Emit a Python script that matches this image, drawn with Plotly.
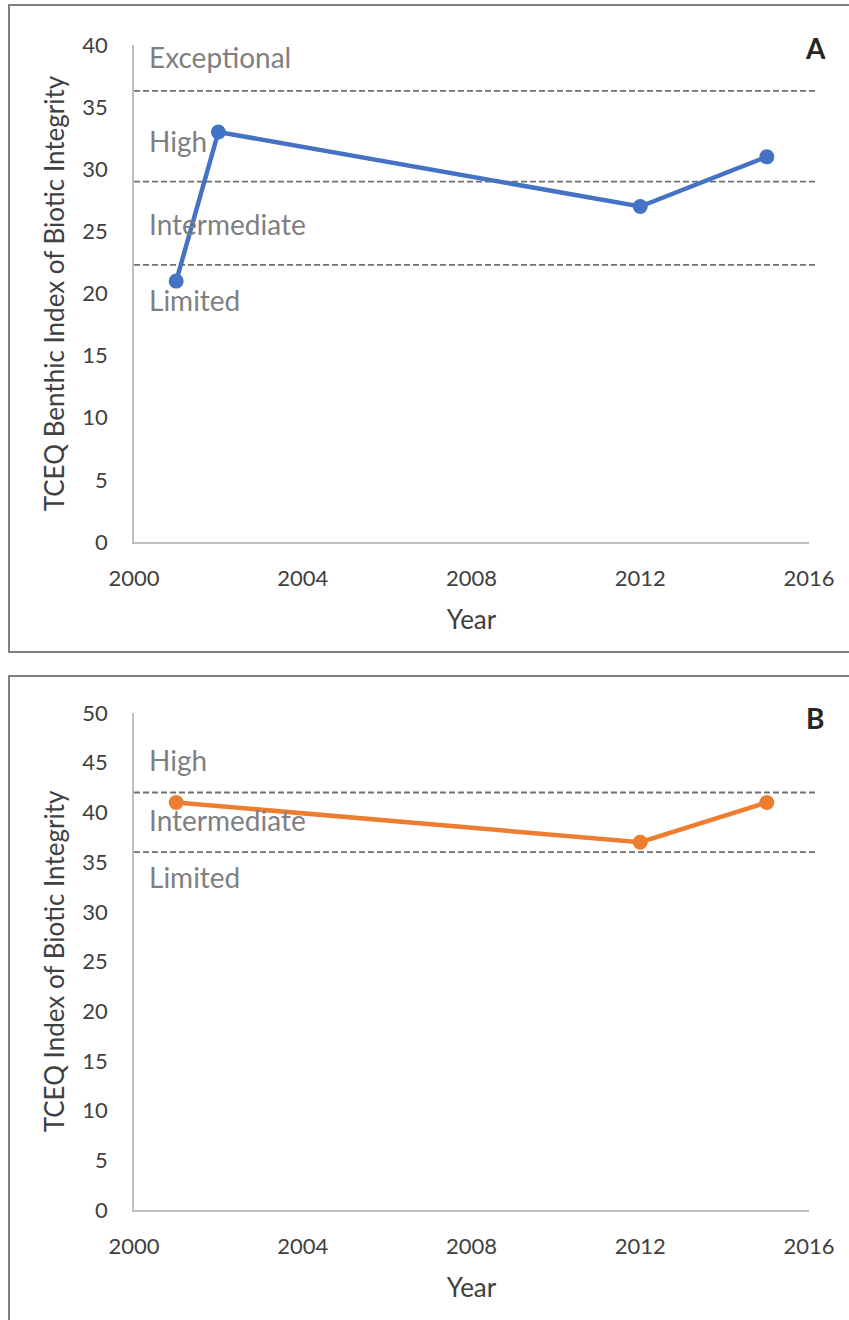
import plotly.graph_objects as go

# Benthic index (panel A)
years_a = [2001, 2002, 2012, 2015]
benthic_ibi = [21, 33, 27, 31]
benthic_breaks = [36.3, 29, 22.3]
benthic_classes = ["Exceptional", "High", "Intermediate", "Limited"]
benthic_class_y = [39.0, 32.3, 25.6, 19.5]

# Fish index (panel B)
years_b = [2001, 2012, 2015]
fish_ibi = [41, 37, 41]
fish_breaks = [42, 36]
fish_classes = ["High", "Intermediate", "Limited"]
fish_class_y = [45.3, 39.2, 33.5]

x_ticks = [2000, 2004, 2008, 2012, 2016]

W, H = 849, 1320
FONT = "Lato"
TICK_COLOR = "#404040"
CLASS_COLOR = "#7f7f7f"


def py(px):
    return 1 - px / H


def px_x(px):
    return px / W


fig = go.Figure()

fig.add_trace(go.Scatter(
    x=years_a, y=benthic_ibi, mode="lines+markers",
    line=dict(color="#4472C4", width=4.5),
    marker=dict(size=15, color="#4472C4"),
    xaxis="x", yaxis="y", showlegend=False, cliponaxis=False,
))
fig.add_trace(go.Scatter(
    x=years_b, y=fish_ibi, mode="lines+markers",
    line=dict(color="#ED7D31", width=4.5),
    marker=dict(size=15, color="#ED7D31"),
    xaxis="x2", yaxis="y2", showlegend=False, cliponaxis=False,
))

x_dom = [px_x(134), px_x(809)]
axis_common = dict(
    showgrid=False, zeroline=False, showline=True, linecolor="#bfbfbf", linewidth=1.5,
    tickfont=dict(family=FONT, size=22, color=TICK_COLOR),
    ticks="", automargin=False,
)
title_font = dict(family=FONT, size=26, color="#404040")
xaxis_common = dict(
    axis_common, range=[2000, 2016], tickmode="array", tickvals=x_ticks,
    ticklabelstandoff=16,
    title=dict(text="Year", font=title_font, standoff=21),
)

fig.update_layout(
    width=W, height=H,
    margin=dict(l=0, r=0, t=0, b=0),
    paper_bgcolor="white", plot_bgcolor="white",
    xaxis=dict(xaxis_common, domain=x_dom, anchor="y"),
    yaxis=dict(axis_common, domain=[py(542), py(45)], range=[0, 40], dtick=5, anchor="x",
               ticklabelstandoff=20,
               title=dict(text="TCEQ Benthic Index of Biotic Integrity", font=title_font, standoff=10)),
    xaxis2=dict(xaxis_common, domain=x_dom, anchor="y2"),
    yaxis2=dict(axis_common, domain=[py(1210), py(713)], range=[0, 50], dtick=5, anchor="x2",
                ticklabelstandoff=20,
                title=dict(text="TCEQ Index of Biotic Integrity", font=title_font, standoff=10)),
)

dash_line = dict(color="#6f6f6f", width=1.8, dash="6px,3px")
shapes = []
# panel frames
shapes.append(dict(type="rect", xref="paper", yref="paper",
                   x0=px_x(9), x1=1.05, y0=py(652), y1=py(5),
                   line=dict(color="#7f7f7f", width=2), layer="below"))
shapes.append(dict(type="rect", xref="paper", yref="paper",
                   x0=px_x(9), x1=1.05, y0=-0.05, y1=py(676),
                   line=dict(color="#7f7f7f", width=2), layer="below"))
for v in benthic_breaks:
    shapes.append(dict(type="line", xref="paper", yref="y", x0=x_dom[0], x1=px_x(817),
                       y0=v, y1=v, line=dash_line, layer="below"))
for v in fish_breaks:
    shapes.append(dict(type="line", xref="paper", yref="y2", x0=x_dom[0], x1=px_x(817),
                       y0=v, y1=v, line=dash_line, layer="below"))
fig.update_layout(shapes=shapes)

class_font = dict(family=FONT, size=28, color=CLASS_COLOR)
annotations = []
for name, yv in zip(benthic_classes, benthic_class_y):
    annotations.append(dict(text=name, xref="paper", yref="y", x=px_x(147), y=yv,
                            xanchor="left", yanchor="middle", showarrow=False, font=class_font))
for name, yv in zip(fish_classes, fish_class_y):
    annotations.append(dict(text=name, xref="paper", yref="y2", x=px_x(147), y=yv,
                            xanchor="left", yanchor="middle", showarrow=False, font=class_font))
annotations.append(dict(text="<b>A</b>", xref="paper", yref="paper", x=px_x(815), y=py(48),
                        xanchor="center", yanchor="middle", showarrow=False,
                        font=dict(family=FONT, size=28, color="#262626")))
annotations.append(dict(text="<b>B</b>", xref="paper", yref="paper", x=px_x(815), y=py(718),
                        xanchor="center", yanchor="middle", showarrow=False,
                        font=dict(family=FONT, size=28, color="#262626")))
fig.update_layout(annotations=annotations)

fig.write_html("out.html")
